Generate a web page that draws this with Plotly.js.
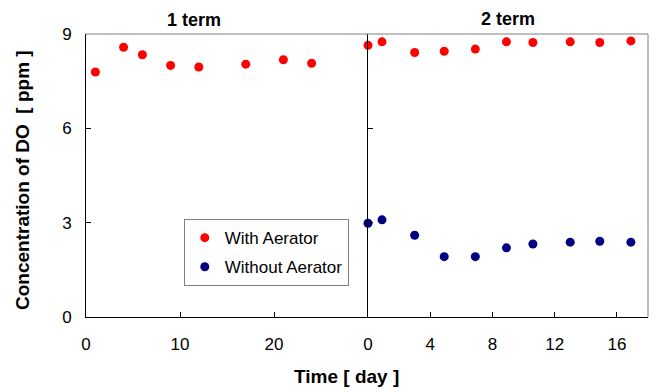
<!DOCTYPE html>
<html>
<head>
<meta charset="utf-8">
<script src="https://cdn.plot.ly/plotly-3.0.1.min.js"></script>
<style>html,body{margin:0;padding:0;background:#fff;}</style>
</head>
<body>
<div id="chart" style="width:656px;height:392px;"></div>
<script>
// Term 1 (with aerator only)
var term1Days = [1, 4, 6, 9, 12, 17, 21, 24];
var term1With = [7.79, 8.58, 8.34, 8.00, 7.95, 8.04, 8.18, 8.07];
// Term 2
var term2Days = [0, 0.9, 3, 4.9, 6.9, 8.9, 10.6, 13, 14.9, 16.9];
var term2With = [8.64, 8.75, 8.41, 8.45, 8.52, 8.75, 8.73, 8.75, 8.73, 8.78];
var term2Without = [2.98, 3.09, 2.60, 1.92, 1.92, 2.20, 2.32, 2.38, 2.41, 2.38];
var yTicks = [0, 3, 6, 9];
var x1Ticks = [0, 10, 20];
var x2Ticks = [0, 4, 8, 12, 16];
var panelTitles = ["1 term", "2 term"];
var seriesNames = ["With Aerator", "Without Aerator"];

var FONT = "Arial, 'Liberation Sans', sans-serif";
var RED = "#ff0000", NAVY = "#000080";

var traces = [
  {x: term1Days, y: term1With, xaxis: "x", yaxis: "y", mode: "markers", type: "scatter",
   name: seriesNames[0], legendgroup: "a", cliponaxis: false,
   marker: {color: RED, size: 9}},
  {x: term2Days, y: term2With, xaxis: "x2", yaxis: "y2", mode: "markers", type: "scatter",
   name: seriesNames[0], legendgroup: "a", showlegend: false, cliponaxis: false,
   marker: {color: RED, size: 9}},
  {x: term2Days, y: term2Without, xaxis: "x2", yaxis: "y2", mode: "markers", type: "scatter",
   name: seriesNames[1], legendgroup: "b", cliponaxis: false,
   marker: {color: NAVY, size: 9}}
];

var split = (368 - 86) / 562;
var axBase = {showgrid: false, zeroline: false, showline: true, linecolor: "#000", linewidth: 1,
  ticks: "inside", ticklen: 5, tickcolor: "#000", tickfont: {family: FONT, size: 17, color: "#000"}};

var layout = {
  width: 656, height: 392,
  margin: {l: 86, r: 8, t: 34, b: 75},
  paper_bgcolor: "#fff", plot_bgcolor: "#fff",
  font: {family: FONT, color: "#000"},
  showlegend: true,
  legend: {x: 0.174, y: 0.346, xanchor: "left", yanchor: "top", bgcolor: "#fff",
    bordercolor: "#808080", borderwidth: 1, font: {family: FONT, size: 17, color: "#000"},
    tracegroupgap: 4, itemwidth: 30},
  xaxis: Object.assign({}, axBase, {domain: [0, split], range: [0, 30], tickvals: x1Ticks,
    anchor: "y", ticklabelstandoff: 12}),
  xaxis2: Object.assign({}, axBase, {domain: [split, 1], range: [0, 18], tickvals: x2Ticks,
    anchor: "y2", ticklabelstandoff: 12}),
  yaxis: Object.assign({}, axBase, {range: [0, 9], tickvals: yTicks, anchor: "x", ticklabelstandoff: 10}),
  yaxis2: Object.assign({}, axBase, {range: [0, 9], tickvals: yTicks, anchor: "x2",
    overlaying: "y", side: "left", showticklabels: false}),
  shapes: [
    {type: "line", xref: "paper", yref: "paper", x0: 0, x1: 1, y0: 1, y1: 1, line: {color: "#808080", width: 1}},
    {type: "line", xref: "paper", yref: "paper", x0: 1, x1: 1, y0: 0, y1: 1, line: {color: "#808080", width: 1}}
  ],
  annotations: [
    {text: "<b>" + panelTitles[0] + "</b>", xref: "paper", yref: "paper", x: 0.192, y: 1.049,
     xanchor: "center", yanchor: "middle", showarrow: false, font: {family: FONT, size: 18}},
    {text: "<b>" + panelTitles[1] + "</b>", xref: "paper", yref: "paper", x: 0.751, y: 1.053,
     xanchor: "center", yanchor: "middle", showarrow: false, font: {family: FONT, size: 18}},
    {text: "<b>Time [ day ]</b>", xref: "paper", yref: "paper", x: 0.463, y: -0.212,
     xanchor: "center", yanchor: "middle", showarrow: false, font: {family: FONT, size: 19}},
    {text: "<b>Concentration of DO  [ ppm ]</b>", xref: "paper", yref: "paper", x: -0.114, y: 0.484,
     xanchor: "center", yanchor: "middle", textangle: -90, showarrow: false, font: {family: FONT, size: 19}}
  ]
};

Plotly.newPlot("chart", traces, layout, {displayModeBar: false, staticPlot: true});
</script>
</body>
</html>
